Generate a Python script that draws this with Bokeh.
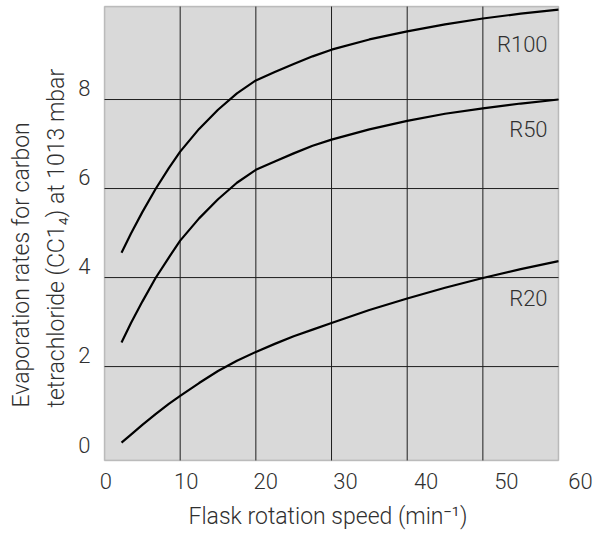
from bokeh.plotting import figure
from bokeh.models import Range1d, FixedTicker, Label, BoxAnnotation, Title
from bokeh.embed import file_html
from bokeh.resources import INLINE

# ---- data ----
speed = [2.25, 3.5, 5, 6.75, 8.5, 10, 12.5, 15, 17.5, 20, 22.5, 25, 27.5, 30,
         35, 40, 45, 50, 55, 60]
r100 = [4.56, 4.99, 5.47, 5.99, 6.46, 6.83, 7.34, 7.77, 8.14, 8.43, 8.62, 8.80,
        8.97, 9.12, 9.35, 9.53, 9.69, 9.82, 9.93, 10.02]
r50 = [2.54, 2.98, 3.46, 3.99, 4.45, 4.83, 5.33, 5.76, 6.13, 6.42, 6.61, 6.79,
       6.96, 7.10, 7.33, 7.52, 7.68, 7.80, 7.91, 8.00]
r20 = [0.29, 0.47, 0.69, 0.93, 1.16, 1.34, 1.63, 1.90, 2.13, 2.33, 2.51, 2.68,
       2.83, 2.98, 3.27, 3.53, 3.77, 3.99, 4.19, 4.37]
series_names = ["R100", "R50", "R20"]

x_tick_labels = ["0", "10", "20", "30", "40", "50", "60"]
y_tick_labels = ["0", "2", "4", "6", "8"]
x_grid = [10, 20, 30, 40, 50]
y_grid = [2, 4, 6, 8]
x_lo, x_hi = 0, 60          # plot area (grey box)
y_lo, y_hi = -0.11, 10.09

x_title = "Flask rotation speed (min\u207b\u00b9)"
y_title = "Evaporation rates for carbon\ntetrachloride (CC1\u2084) at 1013 mbar"

# ---- layout / style (positions of texts as drawn in the reference) ----
x_tick_pos = [0.17, 10.8, 21.3, 31.85, 42.5, 53.1, 62.9]
y_tick_pos = [0.24, 2.25, 4.25, 6.25, 8.25]
name_pos_x = 58.55
name_pos_y = [9.24, 7.33, 3.53]
FONT = "Roboto Light, Liberation Sans"
TXT = "#303030"
GRID = "#1e1e1e"

p = figure(width=600, height=540,
           x_range=Range1d(-0.264, 65.28), y_range=Range1d(-0.155, 10.135),
           output_backend="svg", toolbar_location=None,
           min_border_left=102, min_border_right=2,
           min_border_top=4, min_border_bottom=78)

p.background_fill_color = "white"
p.border_fill_color = "white"
p.outline_line_color = None
p.xgrid.visible = False
p.ygrid.visible = False

# grey plot area
p.add_layout(BoxAnnotation(left=x_lo, right=x_hi, bottom=y_lo, top=y_hi,
                           fill_color="#d9d9d9", fill_alpha=1.0,
                           line_color=None, level="image"))
# grid lines limited to the plot area
p.segment(x0=x_grid, y0=[y_lo] * len(x_grid), x1=x_grid, y1=[y_hi] * len(x_grid),
          line_color=GRID, line_width=1, level="underlay")
p.segment(x0=[x_lo] * len(y_grid), y0=y_grid, x1=[x_hi] * len(y_grid), y1=y_grid,
          line_color=GRID, line_width=1, level="underlay")
# frame outline
p.add_layout(BoxAnnotation(left=x_lo, right=x_hi, bottom=y_lo, top=y_hi,
                           fill_alpha=0.0, line_color="#4a4a4a", line_width=1.5,
                           level="annotation"))

# axes: only tick labels
p.xaxis.ticker = FixedTicker(ticks=x_tick_pos)
p.xaxis.major_label_overrides = {pos: lab for pos, lab in zip(x_tick_pos, x_tick_labels)}
p.yaxis.ticker = FixedTicker(ticks=y_tick_pos)
p.yaxis.major_label_overrides = {pos: lab for pos, lab in zip(y_tick_pos, y_tick_labels)}
for ax in (p.xaxis, p.yaxis):
    ax.axis_line_color = None
    ax.major_tick_line_color = None
    ax.minor_tick_line_color = None
    ax.major_tick_in = 0
    ax.major_tick_out = 0
    ax.major_label_text_font = FONT
    ax.major_label_text_font_size = "22px"
    ax.major_label_text_color = TXT
p.xaxis.major_label_standoff = 10
p.yaxis.major_label_standoff = 12

# curves
for ys in (r100, r50, r20):
    p.line(speed, ys, line_color="black", line_width=2.2, line_join="round")

for name, ny in zip(series_names, name_pos_y):
    p.add_layout(Label(x=name_pos_x, y=ny, text=name, text_align="right",
                       text_baseline="middle", text_font=FONT,
                       text_font_size="22px", text_color=TXT))

# axis titles
p.add_layout(Title(text=x_title, align="left", offset=86, standoff=19,
                   vertical_align="bottom",
                   text_font=FONT, text_font_size="23px", text_font_style="normal",
                   text_color=TXT), "below")
p.add_layout(Title(text=y_title, align="left", offset=55, standoff=11,
                   text_font=FONT, text_font_size="23px", text_font_style="normal",
                   text_color=TXT, text_line_height=1.3), "left")

open("out.html", "w").write(file_html(p, INLINE))
